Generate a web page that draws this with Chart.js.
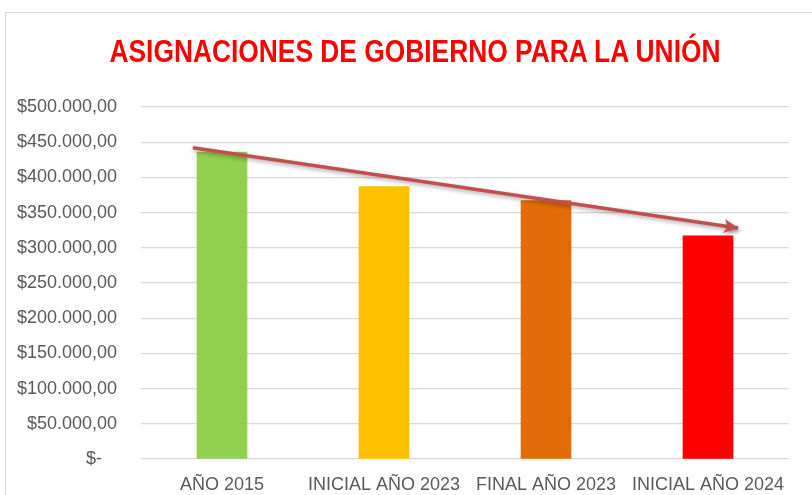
<!DOCTYPE html>
<html lang="es">
<head>
  <meta charset="UTF-8">
  <title>Asignaciones de gobierno para la Unión</title>
  <script src="https://cdn.jsdelivr.net/npm/chart.js"></script>
  <style>
    body {
      margin: 0;
      background: #fff;
      overflow: hidden;
    }
    .frame {
      position: absolute;
      left: 5px;
      top: 12px;
      width: 900px;
      height: 600px;
      border: 1px solid #d9d9d9;
    }
    .wrap {
      position: absolute;
      left: 0;
      top: 0;
      width: 812px;
      height: 495px;
    }
    h1 {
      position: absolute;
      left: 415px;
      top: 36px;
      margin: 0;
      white-space: nowrap;
      font-family: 'Liberation Sans', Arial, sans-serif;
      font-size: 31px;
      line-height: 31px;
      font-weight: bold;
      color: #FF0000;
      transform: translateX(-50%) scaleX(0.85);
    }
  </style>
</head>
<body>
  <div class="frame"></div>
  <div class="wrap"><canvas id="asignChart"></canvas></div>
  <h1>ASIGNACIONES DE GOBIERNO PARA LA UNIÓN</h1>

  <script>
    const categories = ['AÑO 2015', 'INICIAL AÑO 2023', 'FINAL AÑO 2023', 'INICIAL AÑO 2024'];
    const asignaciones = [436000, 387000, 367000, 317000];
    const barColors = ['#92D050', '#FFC000', '#E36C09', '#FF0000'];
    const yTickLabels = ['$-   ', '$50.000,00', '$100.000,00', '$150.000,00', '$200.000,00',
      '$250.000,00', '$300.000,00', '$350.000,00', '$400.000,00', '$450.000,00', '$500.000,00'];
    // flecha de tendencia (posición en categorías, valor)
    const trendX = [-0.18, 3.185];
    const trendY = [442000, 328000];

    const arrowColor = '#C0504D';

    const arrowPlugin = {
      id: 'arrowPlugin',
      beforeDatasetDraw(chart, args) {
        if (args.index !== 1) return;
        const ctx = chart.ctx;
        ctx.save();
        ctx.shadowColor = 'rgba(0,0,0,0.35)';
        ctx.shadowBlur = 4;
        ctx.shadowOffsetX = 1;
        ctx.shadowOffsetY = 2;
      },
      afterDatasetDraw(chart, args) {
        if (args.index !== 1) return;
        const ctx = chart.ctx;
        const pts = args.meta.data;
        const a = pts[pts.length - 2], b = pts[pts.length - 1];
        const ang = Math.atan2(b.y - a.y, b.x - a.x);
        const len = 14, half = 7;
        ctx.fillStyle = arrowColor;
        ctx.beginPath();
        ctx.moveTo(b.x, b.y);
        ctx.lineTo(b.x - len * Math.cos(ang) + half * Math.sin(ang), b.y - len * Math.sin(ang) - half * Math.cos(ang));
        ctx.lineTo(b.x - 0.75 * len * Math.cos(ang), b.y - 0.75 * len * Math.sin(ang));
        ctx.lineTo(b.x - len * Math.cos(ang) - half * Math.sin(ang), b.y - len * Math.sin(ang) + half * Math.cos(ang));
        ctx.closePath();
        ctx.fill();
        ctx.restore();
      }
    };

    const ctx = document.getElementById('asignChart').getContext('2d');
    new Chart(ctx, {
      type: 'bar',
      data: {
        datasets: [{
          label: 'Asignaciones',
          data: asignaciones.map((v, i) => ({ x: i, y: v })),
          backgroundColor: barColors,
          borderWidth: 0,
          barThickness: 50,
          grouped: false,
          order: 2
        }, {
          type: 'line',
          label: 'Tendencia',
          data: trendX.map((x, i) => ({ x: x, y: trendY[i] })),
          borderColor: arrowColor,
          borderWidth: 3.5,
          pointRadius: 0,
          fill: false,
          order: 1
        }]
      },
      plugins: [arrowPlugin],
      options: {
        responsive: true,
        maintainAspectRatio: false,
        animation: false,
        layout: {
          padding: { left: 17, right: 23, top: 107, bottom: 0 }
        },
        plugins: {
          legend: { display: false },
          tooltip: { enabled: false },
          title: { display: false }
        },
        scales: {
          x: {
            type: 'linear',
            min: -0.5,
            max: 3.5,
            offset: false,
            grid: { display: false },
            border: { display: false },
            afterFit: (scale) => { scale.height = 36; },
            afterBuildTicks: (scale) => { scale.ticks = categories.map((c, i) => ({ value: i })); },
            ticks: {
              color: '#595959',
              padding: 7,
              maxRotation: 0,
              autoSkip: false,
              font: { family: "'Liberation Sans', Arial, sans-serif", size: 18 },
              callback: (value) => categories[value]
            }
          },
          y: {
            min: 0,
            max: 500000,
            border: { display: false },
            grid: { color: '#d9d9d9', lineWidth: 1.3, drawTicks: false },
            afterFit: (scale) => { scale.width = 124; },
            ticks: {
              stepSize: 50000,
              padding: 24,
              color: '#595959',
              font: { family: "'Liberation Sans', Arial, sans-serif", size: 18 },
              callback: (value, index) => yTickLabels[index]
            }
          }
        }
      }
    });
  </script>
</body>
</html>
